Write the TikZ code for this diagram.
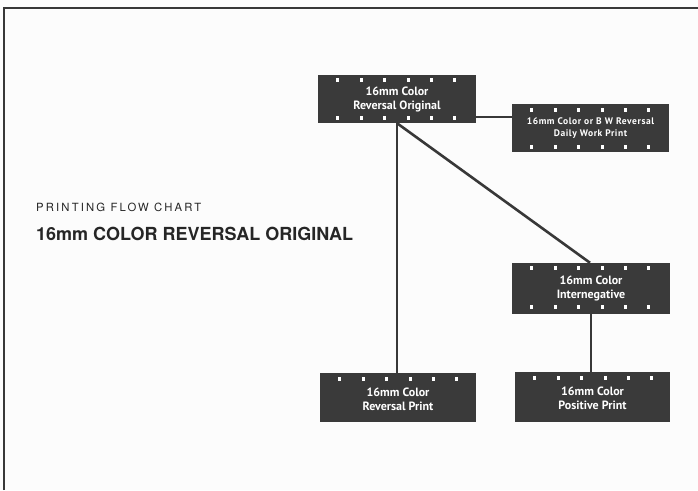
\documentclass[tikz,border=0pt]{standalone}
\usepackage{fontspec}
\setmainfont{TeX Gyre Heros}
\newfontfamily\boxfont{PT Sans}
\newfontfamily\smallboxfont[LetterSpace=6]{PT Sans}
\newfontfamily\spacedfont[LetterSpace=19]{TeX Gyre Heros}
\usetikzlibrary{calc}
\definecolor{filmgray}{HTML}{3A3A3A}
\definecolor{linegray}{HTML}{383838}
\definecolor{paper}{HTML}{FCFCFC}
\tikzset{
  film/.style={fill=filmgray, text=white, inner sep=0pt, align=center,
    font=\boxfont\bfseries\fontsize{12}{14}\selectfont},
  conn/.style={draw=linegray, line width=2.6pt},
  hole/.style={fill=white},
}
\newcommand\holerow[2]{% node, offset from top
  \foreach \i in {0,...,5}{
    \fill[hole] ($(#1.north west)+({18.5+\i*23.4},{#2-2})$) rectangle ++(3,4);
  }}
\newcommand\holerowbot[2]{% node, offset from bottom
  \foreach \i in {0,...,5}{
    \fill[hole] ($(#1.south west)+({18.5+\i*23.4},{-#2-2})$) rectangle ++(3,4);
  }}
\begin{document}
\begin{tikzpicture}[x=1pt,y=-1pt]
  \fill[paper] (0,0) rectangle (698,490);
  \useasboundingbox (0,0) rectangle (698,490);
  \draw[linegray, line width=2pt] (3.5,490) -- (3.5,8) -- (698,8);

  \node[anchor=base west, inner sep=0pt, font=\spacedfont\fontsize{11.3}{13}\selectfont, text=black!85] (t1) at (36,211) {PRINTING FLOW CHART};
  \node[anchor=base west, inner sep=0pt, font=\bfseries\fontsize{18}{20}\selectfont, text=black!85] (t2) at (36,240) {16mm COLOR REVERSAL ORIGINAL};

  \node[film, minimum width=158pt, minimum height=48pt] (A) at (397,99) {16mm Color\\Reversal Original};
  \node[film, minimum width=157pt, minimum height=48pt, font=\smallboxfont\bfseries\fontsize{9.5}{12}\selectfont] (B) at (590.5,128) {16mm Color or B\,\,W Reversal\\Daily Work Print};
  \node[film, minimum width=158pt, minimum height=51pt] (C) at (591,288.5) {16mm Color\\Internegative};
  \node[film, minimum width=156pt, minimum height=49pt] (D) at (398,397.5) {\\[-2pt]16mm Color\\Reversal Print};
  \node[film, minimum width=155pt, minimum height=50pt] (E) at (592.5,397) {\\[-2pt]16mm Color\\Positive Print};

  \holerow{A}{5}\holerowbot{A}{5}
  \holerow{B}{6}\holerowbot{B}{5}
  \holerow{C}{5.5}\holerowbot{C}{7}
  \holerow{D}{6}
  \holerow{E}{6}

  \coordinate (a1) at ([yshift=-18pt]A.east);
  \draw[conn] (a1) -- (a1 -| B.west);
  \draw[conn] (A.south) -- (A.south |- D.north);
  \draw[conn] (A.south) -- ([xshift=-1pt]C.north);
  \draw[conn] (C.south) -- (C.south |- E.north);
\end{tikzpicture}
\end{document}
